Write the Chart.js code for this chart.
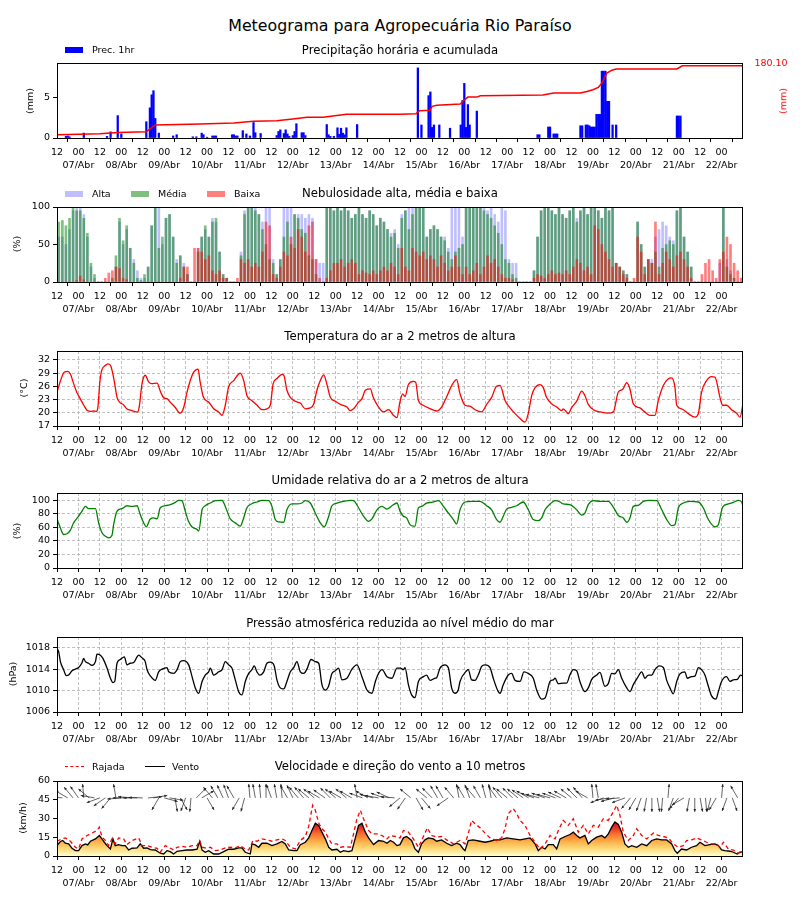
<!DOCTYPE html>
<html>
<head>
<meta charset="utf-8">
<script src="https://cdn.jsdelivr.net/npm/chart.js@4.4.1/dist/chart.umd.min.js"></script>
<style>
  body { margin: 0; background: #fff; }
  #page { position: relative; width: 800px; height: 900px; overflow: hidden; font-family: "DejaVu Sans", sans-serif; }
  .t { position: absolute; white-space: nowrap; color: #000; line-height: 1; }
  canvas { position: absolute; left: 0; }
</style>
</head>
<body>
<div id="page"></div>
<script>
// ---- time axis (hours since 07/Abr 12h) ----
var dayLabels = ['07/Abr','08/Abr','09/Abr','10/Abr','11/Abr','12/Abr','13/Abr','14/Abr',
  '15/Abr','16/Abr','17/Abr','18/Abr','19/Abr','20/Abr','21/Abr','22/Abr'];
var hourLabels = ['12', '00'];
var xTickHours = [];
for (var k = 0; k < 32; k++) xTickHours.push(k * 12);

// ---- precipitation ----
var precHours = [5,6,7,15,28,30,34,36,50,52,53,54,55,57,65,67,76,78,81,82,84,87,88,89,98,99,100,101,104,106,108,110,111,114,
  123,124,125,127,128,129,130,132,133,134,137,138,139,151,152,153,155,157,158,159,160,161,162,168,
  202,204,208,209,210,211,214,220,226,227,228,229,230,231,235,269,270,275,276,278,279,280,
  293,294,296,297,298,299,300,301,302,303,304,305,306,307,308,309,311,313,347,348,349];
var precValues = [0.2,0.25,0.15,0.6,0.2,0.75,2.75,0.5,2.0,3.7,5.3,5.8,2.4,0.6,0.25,0.4,0.15,0.15,0.6,0.4,0.1,0.25,0.25,0.25,0.4,0.4,0.25,0.25,0.9,0.5,0.25,1.9,0.65,0.55,
  0.3,0.8,1.0,0.55,1.0,0.5,0.2,0.3,0.8,1.75,0.65,0.65,0.3,1.65,0.4,0.2,0.2,1.25,0.45,1.2,0.6,0.4,1.25,1.65,
  8.6,1.6,5.2,5.65,1.3,1.6,1.6,1.2,1.6,4.6,6.7,1.3,4.1,1.6,3.3,0.4,0.4,1.35,1.35,0.5,0.5,0.5,
  1.5,1.5,1.6,1.6,1.5,1.35,1.35,1.35,2.9,2.9,2.9,8.2,8.2,8.2,4.5,4.5,1.6,1.6,2.7,2.7,2.7];
var accHours = [0,24,34,50,55,80,99,110,123,132,140,149,162,192,201,203,208.7,210,212.6,225.7,227.5,230,235,237,272,
  278,293,296.6,300,303,305,307.8,310.6,313,347,350,384];
var accValues = [8.3,10.8,14,15.8,32.4,35,37.4,41.5,43,47.4,51.5,51.5,59,59,60.7,68,69,79,81.5,84.8,93,102,102,105.5,107,
  112,112,116,120.5,126,137,162,169,172,172,180.1,180.1];
var accTotal = '180.10';

// ---- cloud cover (2-hourly, %) ----
var cloudAlta = [60,60,50,70,95,100, 100,90,60,20,5,0, 0,0,0,0,20,80, 50,70,45,30,15,5, 5,20,75,100,100,50, 85,90,60,30,35,25,
  10,0,0,45,60,70, 60,85,80,40,10,5, 0,0,0,40,95,100, 100,100,90,80,100,100, 30,10,30,100,100,100, 90,90,90,85,90,85,
  30,25,25,100,100,95, 100,95,100,95,85,90, 100,90,85,95,90,75, 85,80,70,65,70,50, 90,95,100,100,100,100, 100,60,70,75,70,60,
  60,45,100,100,100,60, 100,100,100,100,100,100, 95,100,90,80,100,95, 30,25,25,0,0,0, 0,15,60,95,100,100, 95,90,100,90,85,95,
  100,85,95,100,90,100, 100,95,85,100,95,100, 25,20,15,10,0,0, 80,50,20,30,30,60, 70,80,75,60,55,95, 100,60,40,20,0,0,
  0,0,0,0,0,25, 100,30,15,5,0,0];
var cloudMedia = [80,82,75,85,100,95, 95,85,65,25,10,0, 0,0,0,5,35,85, 55,75,45,25,5,2, 10,20,75,100,45,60, 85,90,60,25,35,20,
  10,0,0,40,60,75, 60,80,85,40,10,5, 0,0,0,35,90,100, 100,95,90,70,50,30, 25,10,30,60,80,50, 90,85,70,65,35,30,
  10,0,0,100,100,95, 100,95,100,95,85,90, 100,90,85,95,90,75, 85,80,70,60,65,45, 85,95,70,90,100,100, 100,60,70,75,70,60,
  55,40,30,40,45,50, 100,100,100,100,100,95, 90,85,75,65,50,30, 25,10,5,0,0,0, 0,15,60,95,100,100, 95,90,100,90,85,95,
  100,80,95,100,90,100, 100,95,85,100,95,100, 25,20,15,10,0,0, 80,50,20,30,25,40, 20,45,50,55,50,95, 100,60,40,20,0,0,
  0,0,0,0,0,0, 100,20,10,5,0,0];
var cloudBaixa = [0,0,0,0,0,2, 8,3,0,0,0,0, 0,5,12,15,20,18, 5,3,0,0,0,0, 0,0,0,0,0,0, 0,0,0,0,5,20,
  20,0,45,45,40,30, 35,15,10,15,5,5, 0,0,5,30,25,30, 20,25,20,40,80,75, 10,5,20,40,35,60, 45,70,60,40,75,80,
  30,5,0,5,15,25, 25,30,20,25,30,25, 10,15,12,10,15,10, 15,20,15,25,20,10, 45,20,15,45,40,35, 40,30,35,30,20,35,
  25,15,20,35,20,10, 20,10,15,25,10,20, 35,25,30,20,10,5, 5,3,0,0,0,0, 0,5,10,8,5,10, 15,10,12,10,15,10,
  20,30,25,15,20,10, 75,70,50,40,30,20, 25,20,10,5,0,5, 60,40,10,30,25,80, 10,25,40,30,20,35, 40,30,20,5,0,0,
  10,25,30,15,5,30, 40,60,50,25,15,5];
var cloudHours = cloudAlta.map(function (v, i) { return i * 2 + 1; });

// ---- temperature (°C) ----
var tempHours = [0,2,4,6,7.5,9,11,13,15,17,19,20.5,22,22.8,24,25,27,28.5,30,32,33.6,35,37,39,42,45,46,47.6,49.4,51.3,
  53,56,58,60,61.6,63.4,66,69,71,72.8,74.6,76.5,79,80,82,85,87.7,90.5,92.4,94.2,96,98.9,101.7,102.6,104.5,106.3,109,112,114.7,117.5,
  119.4,121,123,126,127,128.7,130.6,133.4,136.2,139,141.8,143.7,145.5,147.4,149.3,151,153,155.8,158.6,162.3,
  164,166,168.8,170.7,172.6,175.4,177,180,182.8,185.6,188.4,190.3,192,193.5,194.8,196.7,199.5,200.8,202.3,205,
  207.9,212.5,215.3,218,221,223.7,225.6,228.4,231,234,237.7,240.5,243.3,246,248,250.8,253.6,256.4,259.2,262,
  263.8,265.7,267.6,270.4,272.2,274,277,279.7,282.5,283.4,286.2,288,291,293.7,295.5,297.4,300.2,304,308.6,311.4,
  314.2,316.6,318.9,320.7,322.6,326.3,329,331.9,334.7,336.6,339.4,342.2,344,345.9,346.9,349.6,353.4,357.1,359,360.8,
  363.6,366.4,368.3,371.1,372.6,374.8,377.6,380.4,382.3,384];
var tempValues = [24.7,27.3,29.2,29.4,28.8,27,24.7,23.2,21.7,20.5,20.3,20.4,20.3,21,27,29.6,30.7,31.1,30.7,27.3,23.5,22.4,21.9,20.9,20.5,20.2,21.3,26.6,28.5,27,
  26.6,26.7,24.7,23.3,23.2,22.4,21.3,19.9,21.3,24.7,27.3,29.2,29.9,27.3,23.5,22.4,20.9,20.2,19.4,21.7,25.8,27.3,28.8,29,27.3,23.9,22.8,21.7,20.7,20.9,
  21.7,26.6,27.7,28.7,28.5,25.1,23.5,22.6,22.2,20.9,21.1,22,25.1,27.3,28.6,26.6,23.5,22.6,21.9,21.3,
  20.5,20.9,22.4,23.2,25.1,25.4,23.5,21.3,20.2,20.7,19.4,18.9,22.5,24.3,23.7,26.4,27.1,26.9,22.8,21.7,
  21.1,20.4,21.3,23.5,26.2,27.5,24.3,21.7,21.5,20.7,20.2,21.9,23.5,26,26.2,22.8,21.1,19.8,18.7,17.9,
  19.8,23.9,25.7,26.4,25.7,23.5,22,21.3,20.5,20.9,19.8,21.1,22.7,24.9,23.9,21.9,20.7,20.2,19.9,20.2,
  24.7,25.3,26.8,25.4,22,21.1,20.2,19.4,19.4,22.8,26.2,27.7,27.9,25.8,21.7,20.9,19.8,19,19.8,24.7,
  27.3,28.2,28.1,23.5,21.7,21.7,20.7,19.9,19,22];

// ---- relative humidity (%) ----
var humHours = [0,1.9,3.7,5.6,7.5,9.3,12.1,14,15.9,17.7, 21.5,23.3,25.2,27.1,28.9,30.8,31.7,33.6,36.4,39.2,
  42,44.8,46.6,48.5,50,52.2,54.1,56,57.8,60.6, 63.4,66.2,68.1,69.9,71.8,73.6,75.5,78.4,79.3,81.2,
  83,85.8,88.6,92.4,94.2,97,99.8,102.6,104.5,106.3, 109.1,111.9,114.7,118.5,120.3,122.2,124.1,126.9,128.7,131.5,
  134.3,137.1,139,141.8,144.6,147.4,149.6,152.1,153.9,156.7, 160.4,164.2,166,168.8,171.6,174.4,176.3,179.1,181.9,184.7,
  187.5,190.3,192,193.9,195.7,197.6,199.5,200.4,202.3,204.1, 206.9,209.7,213.5,216.3,219.1,221.9,223.7,225.6,228.4,232.1,
  236.8,240.5,243.3,246.1,248,249.8,251.7,254.5,257.3,261, 263.8,266.6,269.4,271.3,273.2,276,278.8,281.6,283.4,287.1,
  290.9,293.7,295.5,297.4,300.2,303.9,308.6,311.4,314.2,317, 318.9,320.7,322.6,325.4,328.2,331.9,335.7,338.5,341.3,344.1,
  345.9,347.8,350.6,354.3,359,361.8,364.6,368.3,370.2,372.6, 375.8,378.6,381.4,383.2,384];
var humValues = [72.5,59,49.5,50.5,56,66.7,76.5,84,91,87.7, 87.7,66.7,52,47,44.6,48.5,64,84,87.7,92,
  91,92,79,66.7,60.8,72.5,74,72.5,89,92, 93.6,97,100,99.5,84,69,61,57,54.4,86,
  92,96,99.5,100,91,72.5,66.7,61.8,74,89, 95,97.5,100,99.5,91,71.6,68,67.6,86,94.6,
  94.6,96,99.5,96,81,66.7,60.8,76.5,92,96, 98.5,100,99.5,89,76.5,69,72.5,86,91,87,
  92,96,84,76.5,74,64,61.8,61.8,88.7,91, 96,97,99.5,91,81,71.6,65,86,97.5,98.5,
  98.5,92,86,71.6,67.6,76.5,87,89.7,92,97.5, 86,71.6,70,74,86,94.6,99.5,97.5,94.6,93.6,
  86,78,81,93.6,99.5,98.5,98.5,90,77.5,74, 67.6,74,91,92.6,98.5,100,99.5,86,71.6,62.7,
  64,88.7,96,98.5,97.5,88.7,71.6,60.8,64,90, 94.6,97,100,97.5,91];

// ---- sea level pressure (hPa) ----
var presHours = [0,0.9,1.9,3.7,5.2,6.5,8.4,10.3,12.1,14, 14.9,15.9,17.7,19.6,21.5,22.4,24.3,25.7,28,29.9,
  31.3,32.3,33.6,35.4,37.7,39.2,41,42.9,44.8,45.7, 47.6,49.4,50.4,52.6,55,56.9,58.8,61.6,62.5,65.3,
  67.2,69,70.9,73.7,75.6,77.4,79.3,81.2,83,84.9, 85.8,87.7,90.5,92.4,94.2,96.1,97.9,99.8,101.7,103.5,
  105.4,107.3,109.1,110.4,111.9,113.4,115.7,117.5,119.4,121.6, 123.1,125,126.9,128.7,130.6,132.5,134.3,136.2,138.1,139.9,
  142.2,144.6,146.5,148.3,150.2,152.1,153.9,155.8,157.6,159.5, 162.3,165.1,167.9,170.7,173.5,176.3,178.2,180,181.9,184.7,
  187.5,190.3,192.2,193.9,194.8,196.7,198.5,200.4,202.3,205.1, 206.9,208.8,211.6,212.5,214.4,217.2,219.1,220.9,222.8,224.6,
  225.6,229.3,230.2,232.1,234,235.8,237.7,239.6,242.4,244.2, 247,248,249.8,252.6,254.5,256.4,259.2,261.4,263.8,266.6,
  268.5,271.3,273.2,276,277.8,278.8,280.6,283.4,285.3,287.1, 289,290.9,292.7,295.5,297.4,299.3,302.1,303.9,306.7,308.6,
  310.5,312.3,314.2,316.1,318.9,320.7,322.6,324.8,327.3,329.1, 331,332.9,334.7,337.1,339.4,341.3,343.1,345,346.9,348.7,
  351.5,352.8,355.2,357.1,359,360.8,362.7,364.6,366.4,368.9, 370.2,372,374.8,376.7,378.6,380.8,382.7,384];
var presValues = [1017.75,1017.3,1015.4,1013.9,1012.8,1012.9,1013.7,1014,1014.3,1015.2, 1016,1015.4,1015.1,1014.7,1015.4,1016.8,1016.6,1016,1014.2,1012.3,
  1011.5,1011.7,1015.1,1015.8,1016.3,1014.8,1015.1,1015.2,1016.3,1016.6, 1016.1,1015.4,1013.9,1012.6,1011.9,1013.5,1014,1014.3,1013.5,1013.2,
  1013.9,1015.4,1015.6,1014.8,1012.6,1010.5,1009.5,1011.7,1012.9,1013.5, 1014.2,1012.9,1013.5,1013.9,1015.4,1014.8,1014.2,1012,1009.8,1009.2,
  1011.7,1013.2,1013.9,1014.6,1013.5,1012.9,1013.5,1015.1,1015.3,1014.6, 1012,1010.5,1010.3,1011.7,1013.5,1014.3,1015.4,1013.5,1013.2,1014,
  1015.8,1015.4,1015.1,1011.1,1010.1,1010.9,1013.2,1013.7,1014.2,1012, 1012.3,1014,1014.8,1012.6,1010.1,1009.5,1011.7,1013.2,1013.9,1012.6,
  1012.3,1014.2,1014.2,1013.9,1014.3,1011.1,1009.2,1008.7,1011.7,1012.6, 1012.9,1011.9,1012.3,1012.4,1014.2,1014.8,1014.2,1010.5,1009.5,1010.1,
  1011.7,1013.7,1013.9,1012,1011.9,1012.9,1014.5,1014.8,1014.3,1012.3, 1009.8,1009.5,1011.1,1012.9,1013.2,1011.9,1011.7,1013.5,1013.2,1012.3,
  1010.1,1008.4,1008.6,1011.7,1012,1012.3,1011.3,1011.4,1011.4,1012.9, 1013.9,1013.7,1011.7,1009.8,1010.5,1012.1,1012.9,1013.4,1010.8,1011.3,
  1013.2,1013.1,1013.9,1012.3,1010.5,1009.8,1011.1,1012.3,1013.5,1012.3, 1012.9,1012.9,1013.9,1014.6,1014.3,1011.9,1010.5,1009.4,1011.7,1013.1,
  1013.5,1012.3,1012.6,1012.7,1014.3,1013.9,1012.9,1010.8,1009,1008.4, 1009.8,1011.7,1012.6,1011.7,1012,1012.1,1012.9,1012.7];

// ---- wind (km/h) ----
var ventoHours = [0,1.9,3.2,4.7,6.5,8.4,10.3,12.1,14,15.9, 17.2,18.7,21.5,23.7,25.2,26.5,28,29.9,31.3,32.6,
  34.5,36.4,38.2,40.1,42,44.8,46.6,48.5,50.4,52.2, 55,57.8,59.7,61.6,63.4,65.3,67.2,70,72.8,75.6,
  78.4,79.9,81.2,83,84.9,87.7,90.5,93.3,96.1,98.9, 101.7,103.5,105.4,108.2,109.1,111,112.9,114.7,117.5,120.3,
  123.1,125.9,127.8,129.7,132.5,134.3,136.2,139,140.9,142.7, 144.6,146.5,148.3,150.2,152.1,153.9,156.7,158.6,160.4,163.2,
  165.1,167,168.8,170.7,172.6,174.4,177.2,180,182.8,184.7, 186.6,188.4,190.3,192,193.9,195.7,198.5,200.4,202.3,204.1,
  206,207.9,210.7,212.5,215.3,218.1,220.9,223.7,225.6,227.4, 228.4,230.2,233,236.8,239.6,242.4,245.2,248,251.7,255.4,
  259.2,262,264.8,267.6,269.4,271.3,273.2,275,277.8,279.7, 281.6,284.4,287.1,289,290.9,292.7,295.5,297.4,299.3,302.1,
  304.9,306.7,308.6,310.5,312.3,314.2,316.1,317.9,319.8,321.7, 324.5,327.3,330.1,332.9,335.7,338.5,341.3,344.1,345.9,347.2,
  349.6,352.4,355.2,358,359.9,362.7,365.5,368.3,370.2,372, 373.9,376.7,378.6,380.8,382.3,384];
var ventoValues = [8.3,11.6,12.4,10.2,9.7,6.2,4.3,4.3,8.3,9.7, 8.9,11.8,13.7,16.4,13.7,11,8.3,5.6,13.7,8.3,
  9.1,8.3,8.3,4.8,6.2,6.5,9.7,6.2,6.5,5.1, 4.8,2.2,1.6,4.3,3.5,1.6,3.8,4.3,4.8,4.8,
  5.4,11.8,4.8,3,4.3,1.6,1.6,3.5,5.4,5.4, 6.5,6.5,3,1.6,9.7,8.9,7,10.2,10.2,8.3,
  9.7,11.6,9.7,4.8,4.3,4.3,9.1,11,14.5,20.4, 26.3,24.5,19.1,13.7,7,4.8,5.4,3,4.3,3.5,
  4.3,14.5,24.5,26.3,19.1,14.5,9.1,12.4,11.8,10.2, 12.4,11,8.3,9.1,14.5,15.6,12.4,5.6,3,9.7,
  12.9,14.5,13.7,11.8,12.9,10.2,8.3,10.2,9.1,5.6, 4.3,12.4,12.9,11.8,11,11.8,12.9,12.9,14.5,13.7,
  12.9,13.7,14.5,9.7,4.3,7,5.6,9.1,9.1,5.6, 13.7,15.6,17.2,19.1,16.4,14.5,16.4,9.7,12.4,15.1,
  16.4,14.5,17.7,23.1,27.2,25.3,19.1,9.7,7,8.3, 7,9.7,8.3,12.4,13.7,12.9,12.9,9.7,4.3,2.2,
  5.6,4.8,7,8.3,11,8.3,9.1,9.7,8.3,4.8, 4.3,3.8,3,1.6,3,3.5];
var rajHours = [0,2.8,4.7,7.5,10.3,12.1,14,16.8,19.6,22.4, 23.7,25.2,27.1,28.9,30.8,32.6,34.5,37.3,39.2,42,
  45.7,47.6,50.4,53.2,56,57.8,60.6,62.5,65.3,67.2, 70,72.8,75.6,78.4,79.9,81.2,84,85.8,88.6,91.4,
  94.2,97,99.8,102.6,105.4,107.3,109.7,111.9,114.7,117.5, 120.3,123.1,125.9,127.8,130.6,133.4,136.2,139,140.9,143.1,
  144.6,146.5,148.3,150.2,152.1,153.9,156.7,158.6,161.4,164.2, 166,167.9,169.8,171.6,174.4,176.3,179.1,181.9,184.7,186.6,
  189.4,192,193.9,196.7,199.5,202.3,204.1,207.3,209.7,212.5, 215.3,218.1,221.9,225.6,228.4,230.2,232.1,234,236.8,239.6,
  242.4,246.1,248.9,250.8,252.6,255.4,257.3,259.2,262,264.8, 267.6,270.4,273.2,276,278.8,280.6,283.4,286.2,289,291.8,
  294.6,297.4,300.2,303,305.8,308.6,311.4,313.3,315.1,317, 319.8,322.6,324.5,327.3,330.1,333.8,336.6,339.4,342.2,345,
  347.8,350.6,352.4,355.2,358,360.8,363.6,366.4,369.2,371.1, 373,375.8,378.6,381.4,383.2];
var rajValues = [11.8,13.7,14.5,11.8,7,5.6,13.7,16.4,18.3,20.4, 23.1,15.1,12.4,8.3,13.7,9.7,14.5,13.7,9.1,12.4,
  14.5,8.3,8.3,7,6.2,3,8.3,7,4.8,7, 7.8,7,8.3,8.3,12.4,7,6.2,7,4.3,4.8,
  6.5,7,6.5,8.3,5.6,4.8,12.4,11.8,13.7,12.9, 11.8,12.9,13.7,12.4,7,5.6,12.4,15.6,23.7,40.6,
  36.6,26.3,21.8,19.1,13.7,9.7,9.7,7,7.5,7, 17.7,29.8,36.6,29.8,20.4,17.7,17.7,16.4,13.7,16.4,
  15.6,14.5,20.4,19.1,13.7,7,12.4,22.6,16.4,15.1, 15.6,12.9,9.7,12.4,9.7,17.7,28.5,25.8,22.6,18.3,
  14.5,12.4,14.5,21.8,33.9,37.9,33.9,28.5,24.5,16.4, 11,5.6,9.7,16.4,13.7,20.4,28.5,24.5,29.8,19.1,
  24.5,17.7,24.5,23.1,29.8,28.5,35.2,40.6,32.5,19.1, 12.4,16.4,21.8,16.4,13.7,18.3,16.4,15.6,14.5,9.7,
  7,8.3,12.4,12.9,14.5,12.9,11,9.7,9.7,7, 11,5.6,4.8,2.2,4.3];
// direction the arrow points, degrees counter-clockwise from east, every 3 h
var windDirAngles = [170,175,150,130,125,95,140,170,200,215,230,100,185,180,175,180,178,5,10,240,-15,-10,280,300,250,265,45,30,300,130,
  120,115,110,120,240,255,95,100,95,90,110,100,95,120,115,130,130,140,140,150,145,135,140,150,140,150,100,160,150,165,
  170,160,155,175,220,235,140,300,310,140,135,120,120,215,130,100,120,110,130,120,105,100,125,130,140,135,140,145,150,160,
  165,160,165,160,155,150,140,135,130,150,95,100,200,190,195,185,200,230,240,250,260,270,280,265,85,250,230,210,260,270,
  280,275,255,240,85,250,290,120];
var windDirHours = windDirAngles.map(function (v, i) { return i * 3; });

// ---- tick labels ----
var precTicks = [0, 5];
var cloudTicks = [0, 50, 100];
var tempTicks = [17, 20, 23, 26, 29, 32];
var humTicks = [0, 20, 40, 60, 80, 100];
var presTicks = [1006, 1010, 1014, 1018];
var windTicks = [0, 15, 30, 45, 60];

function pts(xs, ys) { return xs.map(function (x, i) { return { x: x, y: ys[i] }; }); }

var page = document.getElementById('page');
var FONT = '"DejaVu Sans", sans-serif';

function text(str, x, y, size, opt) {
  opt = opt || {};
  var d = document.createElement('div');
  d.className = 't';
  d.textContent = str;
  d.style.left = x + 'px';
  d.style.top = y + 'px';
  d.style.fontSize = size + 'px';
  var tr = opt.left ? 'translate(0,-50%)' : 'translate(-50%,-50%)';
  if (opt.rot) tr += ' rotate(-90deg)';
  d.style.transform = tr;
  if (opt.color) d.style.color = opt.color;
  page.appendChild(d);
}
function patch(x, y, w, h, color) {
  var d = document.createElement('div');
  d.style.position = 'absolute';
  d.style.left = x + 'px'; d.style.top = y + 'px';
  d.style.width = w + 'px'; d.style.height = h + 'px';
  d.style.background = color;
  page.appendChild(d);
}
function legendLine(x, y, w, color, dashed) {
  var d = document.createElement('div');
  d.style.position = 'absolute';
  d.style.left = x + 'px'; d.style.top = y + 'px';
  d.style.width = w + 'px'; d.style.height = '0';
  d.style.borderTop = '1.5px ' + (dashed ? 'dashed ' : 'solid ') + color;
  page.appendChild(d);
}

var framePlugin = {
  id: 'frame',
  afterDraw: function (chart) {
    var a = chart.chartArea, c = chart.ctx;
    c.save();
    c.strokeStyle = '#000';
    c.lineWidth = 1;
    c.strokeRect(Math.round(a.left) + 0.5, Math.round(a.top) + 0.5, Math.round(a.right - a.left) - 1, Math.round(a.bottom - a.top));
    c.restore();
  }
};

var arrowPlugin = {
  id: 'arrows',
  afterDatasetsDraw: function (chart) {
    var c = chart.ctx, xs = chart.scales.x, ys = chart.scales.y, a0 = chart.chartArea;
    var y0 = ys.getPixelForValue(46.5);
    c.save();
    c.beginPath();
    c.rect(a0.left, a0.top, a0.right - a0.left, a0.bottom - a0.top);
    c.clip();
    c.strokeStyle = '#222';
    c.fillStyle = '#222';
    c.lineWidth = 0.7;
    windDirHours.forEach(function (h, i) {
      var a = windDirAngles[i] * Math.PI / 180;
      var x0 = xs.getPixelForValue(h);
      var L = 14, hs = 3.2;
      var x1 = x0 + L * Math.cos(a), y1 = y0 - L * Math.sin(a);
      c.beginPath(); c.moveTo(x0, y0); c.lineTo(x1, y1); c.stroke();
      c.beginPath();
      c.moveTo(x1, y1);
      c.lineTo(x1 - hs * Math.cos(a - 0.4), y1 + hs * Math.sin(a - 0.4));
      c.lineTo(x1 - hs * Math.cos(a + 0.4), y1 + hs * Math.sin(a + 0.4));
      c.closePath(); c.fill();
    });
    c.restore();
  }
};

function panel(plotTop, yMin, yMax, yTicks, datasets, opt) {
  var pad = 15, plotH = 75, axisH = 40;
  var cv = document.createElement('canvas');
  cv.width = 800;
  cv.height = pad + plotH + axisH;
  cv.style.top = (plotTop - pad) + 'px';
  page.appendChild(cv);
  var tickFont = { family: FONT, size: 9.5, lineHeight: 1.35 };
  var gridOpt = opt.grid
    ? { color: '#b0b0b0', lineWidth: 0.8, tickLength: 4, tickColor: '#000', tickWidth: 1 }
    : { drawOnChartArea: false, tickLength: 4, tickColor: '#000', tickWidth: 1 };
  var scales = {
    x: {
      type: 'linear', min: 0, max: 384, offset: false,
      afterBuildTicks: function (s) { s.ticks = xTickHours.map(function (v) { return { value: v }; }); },
      afterFit: function (s) { s.height = axisH; },
      ticks: {
        autoSkip: false, maxRotation: 0, color: '#000', font: tickFont, padding: 4,
        callback: function (v, i) { return i % 2 === 0 ? hourLabels[0] : [hourLabels[1], dayLabels[(i - 1) / 2]]; }
      },
      grid: gridOpt,
      border: { display: false, dash: opt.grid ? [3, 2] : undefined }
    },
    y: {
      min: yMin, max: yMax,
      afterBuildTicks: function (s) { s.ticks = yTicks.map(function (v) { return { value: v }; }); },
      afterFit: function (s) { s.width = 57; },
      ticks: { autoSkip: false, color: '#000', font: tickFont, padding: 3, callback: function (v) { return String(v); } },
      grid: gridOpt,
      border: { display: false, dash: opt.grid ? [3, 2] : undefined }
    }
  };
  if (opt.y1) scales.y1 = opt.y1;
  return new Chart(cv, {
    type: 'line',
    data: { datasets: datasets },
    options: {
      responsive: false, animation: false,
      layout: { padding: { top: pad, right: 57, left: 0, bottom: 0 } },
      plugins: { legend: { display: false }, tooltip: { enabled: false } },
      elements: { point: { radius: 0 } },
      scales: scales
    },
    plugins: [framePlugin].concat(opt.plugins || [])
  });
}

// 1. precipitation
panel(63, 0, 9.2, precTicks, [
  { type: 'line', data: pts(accHours, accValues), yAxisID: 'y1', borderColor: '#ff0000', borderWidth: 1.5, order: 0 },
  { type: 'bar', data: pts(precHours, precValues), backgroundColor: '#0000ff', barThickness: 1.6, grouped: false, order: 1 }
], { y1: { display: false, min: 0, max: 187 } });

// 2. cloud cover
panel(207, 0, 100, cloudTicks, [
  { type: 'bar', data: pts(cloudHours, cloudBaixa), backgroundColor: 'rgba(255,0,0,0.5)', barThickness: 2, grouped: false, order: 0 },
  { type: 'bar', data: pts(cloudHours, cloudMedia), backgroundColor: 'rgba(0,128,0,0.5)', barThickness: 2, grouped: false, order: 1 },
  { type: 'bar', data: pts(cloudHours, cloudAlta), backgroundColor: 'rgba(0,0,255,0.25)', barThickness: 2, grouped: false, order: 2 }
], {});

// 3. temperature
panel(351, 17, 34, tempTicks, [
  { data: pts(tempHours, tempValues), borderColor: '#ff0000', borderWidth: 1.3, cubicInterpolationMode: 'monotone' }
], { grid: true });

// 4. humidity
panel(493, 0, 110.8, humTicks, [
  { data: pts(humHours, humValues), borderColor: '#008000', borderWidth: 1.3, cubicInterpolationMode: 'monotone' }
], { grid: true });

// 5. pressure
panel(637, 1006, 1020, presTicks, [
  { data: pts(presHours, presValues), borderColor: '#000', borderWidth: 1.3, cubicInterpolationMode: 'monotone' }
], { grid: true });

// 6. wind
function windFill(ctx) {
  var ch = ctx.chart;
  if (!ch.chartArea) return 'rgba(0,0,0,0)';
  var y = ch.scales.y;
  var g = ch.ctx.createLinearGradient(0, y.getPixelForValue(0), 0, y.getPixelForValue(30));
  g.addColorStop(0, '#ffffd0');
  g.addColorStop(0.2, '#fed97a');
  g.addColorStop(0.4, '#fdac45');
  g.addColorStop(0.6, '#f86a2e');
  g.addColorStop(0.8, '#dd2222');
  g.addColorStop(1, '#b00026');
  return g;
}
panel(781, 0, 60, windTicks, [
  { data: pts(rajHours, rajValues), borderColor: '#ff0000', borderWidth: 1.3, borderDash: [4, 3], order: 0 },
  { data: pts(ventoHours, ventoValues), borderColor: '#000', borderWidth: 1.3, fill: 'origin', backgroundColor: windFill, order: 1 }
], { plugins: [arrowPlugin] });

// ---- text ----
text('Meteograma para Agropecuária Rio Paraíso', 400, 26, 15.8);
text('Precipitação horária e acumulada', 400, 51, 11.7);
text('Nebulosidade alta, média e baixa', 400, 194, 11.7);
text('Temperatura do ar a 2 metros de altura', 400, 337, 11.7);
text('Umidade relativa do ar a 2 metros de altura', 400, 481, 11.7);
text('Pressão atmosférica reduzida ao nível médio do mar', 400, 624, 11.7);
text('Velocidade e direção do vento a 10 metros', 400, 767, 11.7);

text('(mm)', 30, 101, 9.5, { rot: true });
text('(%)', 17, 244, 9.5, { rot: true });
text('(°C)', 24, 388, 9.5, { rot: true });
text('(%)', 17, 531, 9.5, { rot: true });
text('(hPa)', 13, 674, 9.5, { rot: true });
text('(km/h)', 23, 818, 9.5, { rot: true });
text(accTotal, 771, 62.5, 9.5, { color: '#ff0000' });
text('(mm)', 783, 101, 9.5, { rot: true, color: '#ff0000' });

patch(65, 46.5, 18, 6, '#0000ff');
text('Prec. 1hr', 92, 49.5, 9.5, { left: true });

patch(65, 191, 18, 6, '#bfbfff');
text('Alta', 92, 194, 9.5, { left: true });
patch(131, 191, 18, 6, '#80bf80');
text('Média', 158, 194, 9.5, { left: true });
patch(207, 191, 18, 6, '#ff8080');
text('Baixa', 234, 194, 9.5, { left: true });

legendLine(65, 766, 19, '#ff0000', true);
text('Rajada', 92, 767, 9.5, { left: true });
legendLine(145, 766, 20, '#000', false);
text('Vento', 172, 767, 9.5, { left: true });
</script>
</body>
</html>
